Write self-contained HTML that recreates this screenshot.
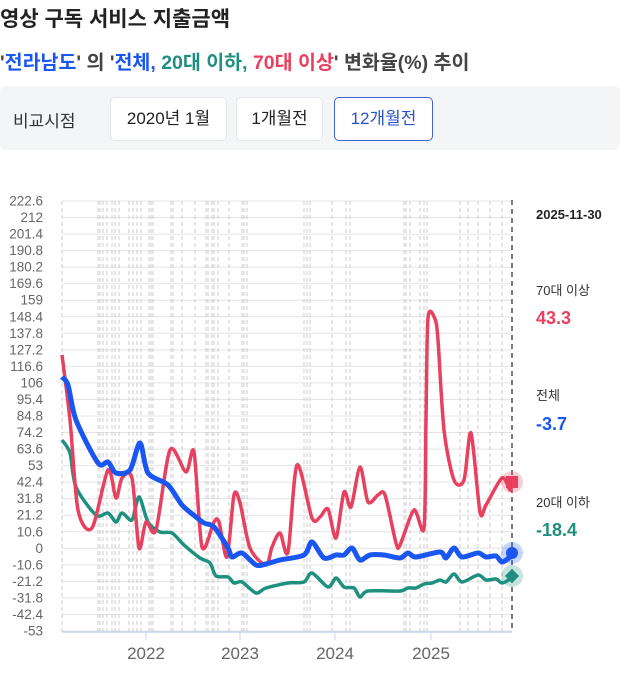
<!DOCTYPE html>
<html><head><meta charset="utf-8"><style>
body{margin:0;width:620px;height:673px;background:#fff;font-family:"Liberation Sans","Noto Sans CJK KR",sans-serif;position:relative;overflow:hidden}
.t{position:absolute;white-space:nowrap}
.btn{position:absolute;top:97px;height:42px;background:#fff;border:1px solid #e3e5ea;border-radius:5px;font-size:17px;line-height:42px;text-align:center;color:#222}
</style></head><body>
<div class="t" style="left:0;top:3px;font-size:21px;font-weight:bold;color:#222">영상 구독 서비스 지출금액</div>
<div class="t" style="left:0;top:46px;font-size:19.5px;font-weight:bold;color:#444">'<span style="color:#1a56f0">전라남도</span>' 의 '<span style="color:#1a56f0">전체, </span><span style="color:#1f8f80">20대 이하, </span><span style="color:#e8405f">70대 이상</span>' 변화율(%) 추이</div>
<div style="position:absolute;left:0;top:86px;width:620px;height:64px;background:#f4f5f7;border-radius:6px"></div>
<div class="t" style="left:13px;top:107px;font-size:17px;color:#333">비교시점</div>
<div class="btn" style="left:110px;width:115px">2020년 1월</div>
<div class="btn" style="left:236px;width:85px">1개월전</div>
<div class="btn" style="left:334px;width:97px;border-color:#3a64d8;color:#2a52c8">12개월전</div>

<svg width="620" height="673" style="position:absolute;left:0;top:0">
<g id="grid" stroke="#e4e4e4" stroke-width="1"></g>
<g id="vg" stroke="#ccc" stroke-width="1" stroke-dasharray="4,3"></g>
<g id="yl" font-size="13.5" fill="#666" text-anchor="end" font-family="Liberation Sans,sans-serif"></g>
<line x1="62" y1="632" x2="512" y2="632" stroke="#c5d3f0" stroke-width="1.5"/>
<g stroke="#c5d3f0"><line x1="146" y1="632" x2="146" y2="640"/><line x1="240" y1="632" x2="240" y2="640"/><line x1="335" y1="632" x2="335" y2="640"/><line x1="431" y1="632" x2="431" y2="640"/></g>
<g font-size="17" fill="#666" text-anchor="middle" font-family="Liberation Sans,sans-serif">
<text x="146" y="659">2022</text><text x="240" y="659">2023</text><text x="335" y="659">2024</text><text x="431" y="659">2025</text></g>
<line x1="512" y1="200" x2="512" y2="632" stroke="#333" stroke-width="1.3" stroke-dasharray="5,4"/>
<path id="pg" fill="none" stroke="#1f8f80" stroke-width="3.5" stroke-linejoin="round"/>
<path id="pr" fill="none" stroke="#e8405f" stroke-width="3.5" stroke-linejoin="round"/>
<path id="pb" fill="none" stroke="#1a56f0" stroke-width="5" stroke-linejoin="round"/>
<circle cx="512" cy="482" r="11" fill="#e8405f" opacity="0.25"/><rect x="506" y="476" width="12" height="12" fill="#e8405f"/>
<circle cx="512" cy="553" r="11" fill="#1a56f0" opacity="0.25"/><circle cx="512" cy="553" r="6" fill="#1a56f0"/>
<circle cx="512" cy="576" r="11" fill="#1f8f80" opacity="0.25"/><rect x="507" y="571" width="10" height="10" fill="#1f8f80" transform="rotate(45 512 576)"/>
</svg>
<div class="t" style="left:536px;top:207px;font-size:13px;font-weight:bold;color:#222">2025-11-30</div>
<div class="t" style="left:536px;top:280px;font-size:13px;color:#333">70대 이상</div>
<div class="t" style="left:536px;top:308px;font-size:18px;font-weight:bold;color:#e8405f">43.3</div>
<div class="t" style="left:536px;top:385px;font-size:13px;color:#333">전체</div>
<div class="t" style="left:536px;top:414px;font-size:18px;font-weight:bold;color:#1a56f0">-3.7</div>
<div class="t" style="left:536px;top:492px;font-size:13px;color:#333">20대 이하</div>
<div class="t" style="left:536px;top:520px;font-size:18px;font-weight:bold;color:#1f8f80">-18.4</div>
<script>
var g=document.getElementById('grid'),yl=document.getElementById('yl'),vg=document.getElementById('vg'),ns='http://www.w3.org/2000/svg';
var labs=['222.6','212','201.4','190.8','180.2','169.6','159','148.4','137.8','127.2','116.6','106','95.4','84.8','74.2','63.6','53','42.4','31.8','21.2','10.6','0','-10.6','-21.2','-31.8','-42.4','-53'];
labs.forEach(function(l,i){var y=201+i*430/26;var ln=document.createElementNS(ns,'line');ln.setAttribute('x1',62);ln.setAttribute('x2',512);ln.setAttribute('y1',y);ln.setAttribute('y2',y);g.appendChild(ln);
var t=document.createElementNS(ns,'text');t.setAttribute('x',43);t.setAttribute('y',y+4.5);t.textContent=l;yl.appendChild(t);});
[62,98,100,103,107,112,115,119,129,133,137,141,149,151,153,171,173,182,195,206,208,212,214,218,229,242,244,247,304,307,310,332,346,350,404,406,410,420,424,427,460,468,478,490,502].forEach(function(x){var ln=document.createElementNS(ns,'line');ln.setAttribute('x1',x);ln.setAttribute('x2',x);ln.setAttribute('y1',201);ln.setAttribute('y2',632);vg.appendChild(ln);});
function sm(s){var p=s.trim().split(/\s+/).map(function(a){return a.split(',').map(Number)});var d='M'+p[0][0]+','+p[0][1];
for(var i=0;i<p.length-1;i++){var p0=p[Math.max(0,i-1)],p1=p[i],p2=p[i+1],p3=p[Math.min(p.length-1,i+2)],k=0.14;
d+=' C'+(p1[0]+(p2[0]-p0[0])*k)+','+(p1[1]+(p2[1]-p0[1])*k)+' '+(p2[0]-(p3[0]-p1[0])*k)+','+(p2[1]-(p3[1]-p1[1])*k)+' '+p2[0]+','+p2[1];}return d;}
document.getElementById('pg').setAttribute('d',sm("62,440 70,453 76,487 96,515 108,513 116,522 122,513 132,520 139,497 148,522 160,532 172,533 184,545 200,558 210,563 216,576 228,577 234,583 242,582 256,593 266,588 288,583 304,582 312,573 328,587 336,578 344,587 354,588 360,597 368,591 400,591 408,588 416,588 424,584 432,583 440,580 446,582 454,574 462,582 478,575 486,580 496,579 502,583 510,579 512,576"));
document.getElementById('pr').setAttribute('d',sm("62,355 70,420 78,510 92,528 108,470 116,498 122,478 132,478 139,548 146,522 156,530 170,450 186,472 194,452 202,547 214,522 219,522 227,557 234,495 240,503 250,548 266,565 272,547 280,533 288,552 297,465 312,518 320,517 328,509 336,538 344,492 351,507 360,467 368,502 378,495 385,495 396,543 400,545 414,510 424,528 426,420 428,318 435,319 438,340 444,430 454,480 464,480 471,433 480,512 486,505 502,478 510,490 512,482"));
document.getElementById('pb').setAttribute('d',sm("62,377 68,385 76,420 98,463 108,462 116,473 130,470 140,443 148,473 168,485 182,505 196,517 204,523 214,527 228,548 232,557 242,553 256,565 266,564 280,560 304,555 312,542 324,558 336,555 344,555 352,548 360,560 370,555 384,555 400,558 408,553 416,557 440,552 446,558 454,548 462,557 478,553 486,557 496,556 502,562 510,557 512,553"));
</script>
</body></html>
